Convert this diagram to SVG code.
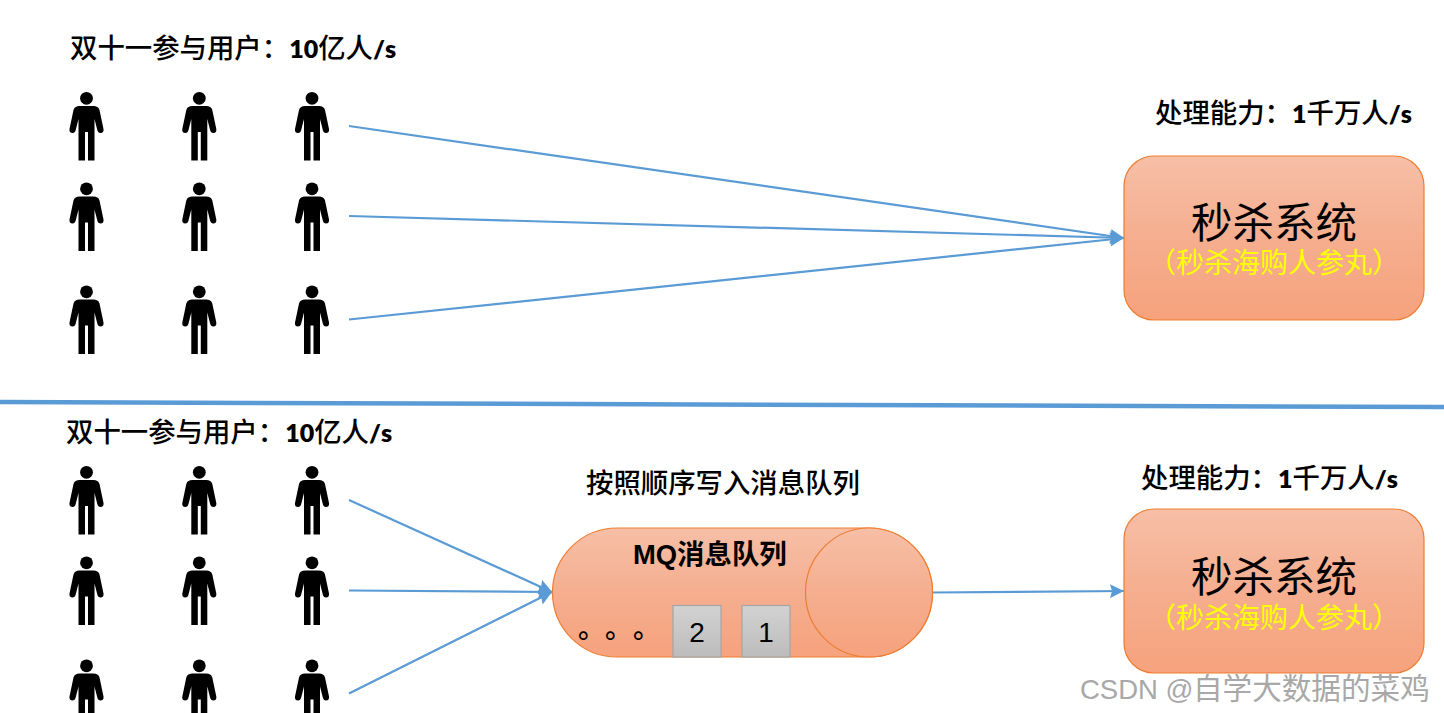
<svg xmlns="http://www.w3.org/2000/svg" xmlns:xlink="http://www.w3.org/1999/xlink" width="1444" height="713" viewBox="0 0 1444 713">
<style>
text{font-family:"Noto Sans CJK SC","Liberation Sans",sans-serif;fill:#000;text-spacing-trim:space-all;font-kerning:none}
.lab{font-size:27.4px;font-weight:500}
.num{font-family:"Lato","Noto Sans CJK SC",sans-serif;font-weight:800;font-size:25px}
.box{fill:url(#org);stroke:#ED7D31;stroke-width:1.2}
.t{font-size:41.5px;text-anchor:middle}
.s{font-size:28px;font-weight:400;text-anchor:middle;fill:#FFFF00}
.c{fill:none;stroke:#5B9BD5;stroke-width:2.2}
.q{fill:url(#gry);stroke:#A5A5A5;stroke-width:1.2}
.d{font-family:"Liberation Sans",sans-serif;font-size:28px;text-anchor:middle}
</style>
<defs>
<linearGradient id="org" x1="0" y1="0" x2="0" y2="1"><stop offset="0" stop-color="#F7BFA7"/><stop offset="0.5" stop-color="#F5AE8F"/><stop offset="1" stop-color="#F6A27D"/></linearGradient>
<linearGradient id="gry" x1="0" y1="0" x2="0" y2="1"><stop offset="0" stop-color="#D2D2D2"/><stop offset="1" stop-color="#BCBCBC"/></linearGradient>
<marker id="arr" viewBox="0 0 14 14" refX="14" refY="7" markerWidth="14" markerHeight="14" markerUnits="userSpaceOnUse" orient="auto"><path d="M0,0L14,7L0,14L2,7Z" fill="#5B9BD5"/></marker>
<symbol id="p" overflow="visible"><circle cx="0" cy="6.3" r="6.4"/><path d="M-7,14C-10,14-12,15-13,18L-17,37Q-17.5,41-14,41Q-11.500,41-10.800,38L-8,27L-8,68.500L-1.500,68.500L-1.500,40L1.500,40L1.500,68.500L8,68.500L8,27L10.800,38Q11.500,41 14,41Q17.500,41 17,37L13,18C12,15 10,14 7,14Z"/></symbol>
</defs>
<rect width="1444" height="713" fill="#fff"/>
<g id="connectors">
<path class="c" d="M349,126L1124,238" marker-end="url(#arr)"/>
<path class="c" d="M349,216L1124,238" marker-end="url(#arr)"/>
<path class="c" d="M349,319.500L1124,238" marker-end="url(#arr)"/>
<path class="c" d="M349,500L552,592" marker-end="url(#arr)"/>
<path class="c" d="M349,590.500L552,592" marker-end="url(#arr)"/>
<path class="c" d="M349,693.500L552,592" marker-end="url(#arr)"/>
<path class="c" d="M932,592.500L1124,591" marker-end="url(#arr)"/>
</g>
<path id="divider" d="M0,402L1444,407" fill="none" stroke="#5B9BD5" stroke-width="4.500"/>
<g id="users-top">
<use href="#p" x="86.500" y="92"/><use href="#p" x="199.300" y="92"/><use href="#p" x="312" y="92"/>
<use href="#p" x="86.500" y="182.500"/><use href="#p" x="199.300" y="182.500"/><use href="#p" x="312" y="182.500"/>
<use href="#p" x="86.500" y="285.500"/><use href="#p" x="199.300" y="285.500"/><use href="#p" x="312" y="285.500"/>
</g>
<g id="users-bottom">
<use href="#p" x="86.500" y="466"/><use href="#p" x="199.300" y="466"/><use href="#p" x="312" y="466"/>
<use href="#p" x="86.500" y="556.500"/><use href="#p" x="199.300" y="556.500"/><use href="#p" x="312" y="556.500"/>
<use href="#p" x="86.500" y="659.500"/><use href="#p" x="199.300" y="659.500"/><use href="#p" x="312" y="659.500"/>
</g>
<g id="label-users-top"><text class="lab" x="70" y="58">双十一参与用户：<tspan class="num">10</tspan>亿人<tspan class="num">/s</tspan></text></g>
<g id="label-users-bottom"><text class="lab" x="66" y="441.500">双十一参与用户：<tspan class="num">10</tspan>亿人<tspan class="num">/s</tspan></text></g>
<g id="label-cap-top"><text class="lab" x="1155" y="123">处理能力：<tspan class="num">1</tspan>千万人<tspan class="num">/s</tspan></text></g>
<g id="label-cap-bottom"><text class="lab" x="1141" y="488">处理能力：<tspan class="num">1</tspan>千万人<tspan class="num">/s</tspan></text></g>
<g id="label-order"><text class="lab" x="586" y="493">按照顺序写入消息队列</text></g>
<g id="system-top">
<rect class="box" x="1124" y="156" width="300" height="164" rx="30"/>
<text class="t" x="1274" y="238">秒杀系统</text>
<text class="s" x="1274" y="273">（秒杀海购人参丸）</text>
</g>
<g id="system-bottom">
<rect class="box" x="1124" y="509" width="300" height="164" rx="30"/>
<text class="t" x="1274" y="592">秒杀系统</text>
<text class="s" x="1274" y="628">（秒杀海购人参丸）</text>
</g>
<g id="mq">
<path class="box" d="M617,528L869,528A63.500,64.500 0 0 1 869,657L617,657A64.500,64.500 0 0 1 617,528Z"/>
<ellipse class="box" cx="869" cy="592.500" rx="63.500" ry="64.500"/>
<text x="633" y="564" style="font-family:'Liberation Sans','Noto Sans CJK SC',sans-serif;font-weight:700;font-size:27.4px">MQ消息队列</text>
<text class="lab" x="578 605 633" y="638">。。。</text>
</g>
<g id="msg-2"><rect class="q" x="673" y="605.500" width="48" height="51.500"/><text class="d" x="697" y="642">2</text></g>
<g id="msg-1"><rect class="q" x="742" y="605.500" width="48" height="51.500"/><text class="d" x="766" y="642">1</text></g>
<g id="watermark"><text x="1080" y="699" style="font-family:'Liberation Sans','Noto Sans CJK SC',sans-serif;font-size:27.500px;fill:#A8A8A8">CSDN @<tspan x="1193" style="font-size:29.600px">自学大数据的菜鸡</tspan></text></g>
</svg>
